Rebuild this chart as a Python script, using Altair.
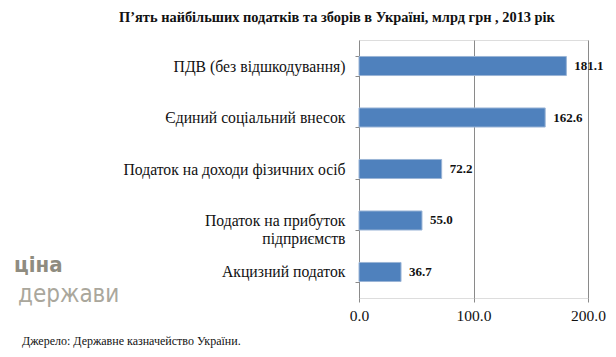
import altair as alt
import pandas as pd

categories = ["ПДВ (без відшкодування)", "Єдиний соціальний внесок",
              "Податок на доходи фізичних осіб", "Податок на прибуток\nпідприємств",
              "Акцизний податок"]
values = [181.1, 162.6, 72.2, 55.0, 36.7]
x_ticks = [0, 100, 200]
title_text = "П’ять найбільших податків та зборів в Україні, млрд  грн , 2013 рік"
source_text = "Джерело: Державне казначейство України."

df = pd.DataFrame({"cat": categories, "val": values,
                   "lbl": [f"{v:.1f}" for v in values]})

serif = "Liberation Serif"
logo_font = "DejaVu Sans Condensed"

base = alt.Chart(df).encode(
    y=alt.Y("cat:N", sort=categories, title=None,
            scale=alt.Scale(paddingInner=0.63, paddingOuter=0.32),
            axis=alt.Axis(labelFont=serif, labelFontSize=15.7, labelColor="#111",
                          labelPadding=10, ticks=True, tickSize=4, tickColor="#8a8a8a",
                          tickBand="extent", domain=False,
                          labelExpr="split(datum.label, '\\n')", labelLimit=300,
                          labelLineHeight=18)),
)

bars = base.mark_bar(color="#4f81bd", stroke="#9ab4d6", strokeWidth=1).encode(
    x=alt.X("val:Q", title=None,
            scale=alt.Scale(domain=[0, 200], nice=False),
            axis=alt.Axis(values=x_ticks, format=".1f", labelFont=serif,
                          labelFontSize=15.5, labelColor="#111", ticks=True,
                          tickSize=4, tickColor="#8a8a8a",
                          domain=False, grid=True, gridColor="#8a8a8a",
                          labelPadding=6, labelFlush=False))
)

labels = base.mark_text(align="left", dx=8, font=serif, fontSize=13,
                        fontWeight="bold", color="#111").encode(
    x="val:Q", text="lbl:N")

title = alt.Chart(pd.DataFrame({"t": [title_text]})).mark_text(
    font=serif, fontSize=14.4, fontWeight="bold", color="#111", align="center"
).encode(x=alt.value(-22), y=alt.value(-22), text="t:N")

source = alt.Chart(pd.DataFrame({"t": [source_text]})).mark_text(
    font=serif, fontSize=12, color="#111", align="left"
).encode(x=alt.value(-337), y=alt.value(301), text="t:N")

logo1 = alt.Chart(pd.DataFrame({"t": ["ціна"]})).mark_text(
    font=logo_font, fontSize=22, fontWeight="bold", color="#8f8c80",
    align="left", baseline="alphabetic"
).encode(x=alt.value(-345), y=alt.value(232), text="t:N")

logo2 = alt.Chart(pd.DataFrame({"t": ["держави"]})).mark_text(
    font=logo_font, fontSize=24, color="#aaa79c", align="left",
    baseline="alphabetic"
).encode(x=alt.value(-341), y=alt.value(262), text="t:N")

chart = alt.layer(bars, labels, title, source, logo1, logo2).properties(
    width=229, height=258,
    autosize=alt.AutoSizeParams(type="none"),
    padding={"left": 359, "top": 40, "right": 28, "bottom": 59},
).configure_view(stroke=None).configure(background="white", font=serif)

chart.save("out.html", embed_options={"renderer": "svg", "actions": False})
